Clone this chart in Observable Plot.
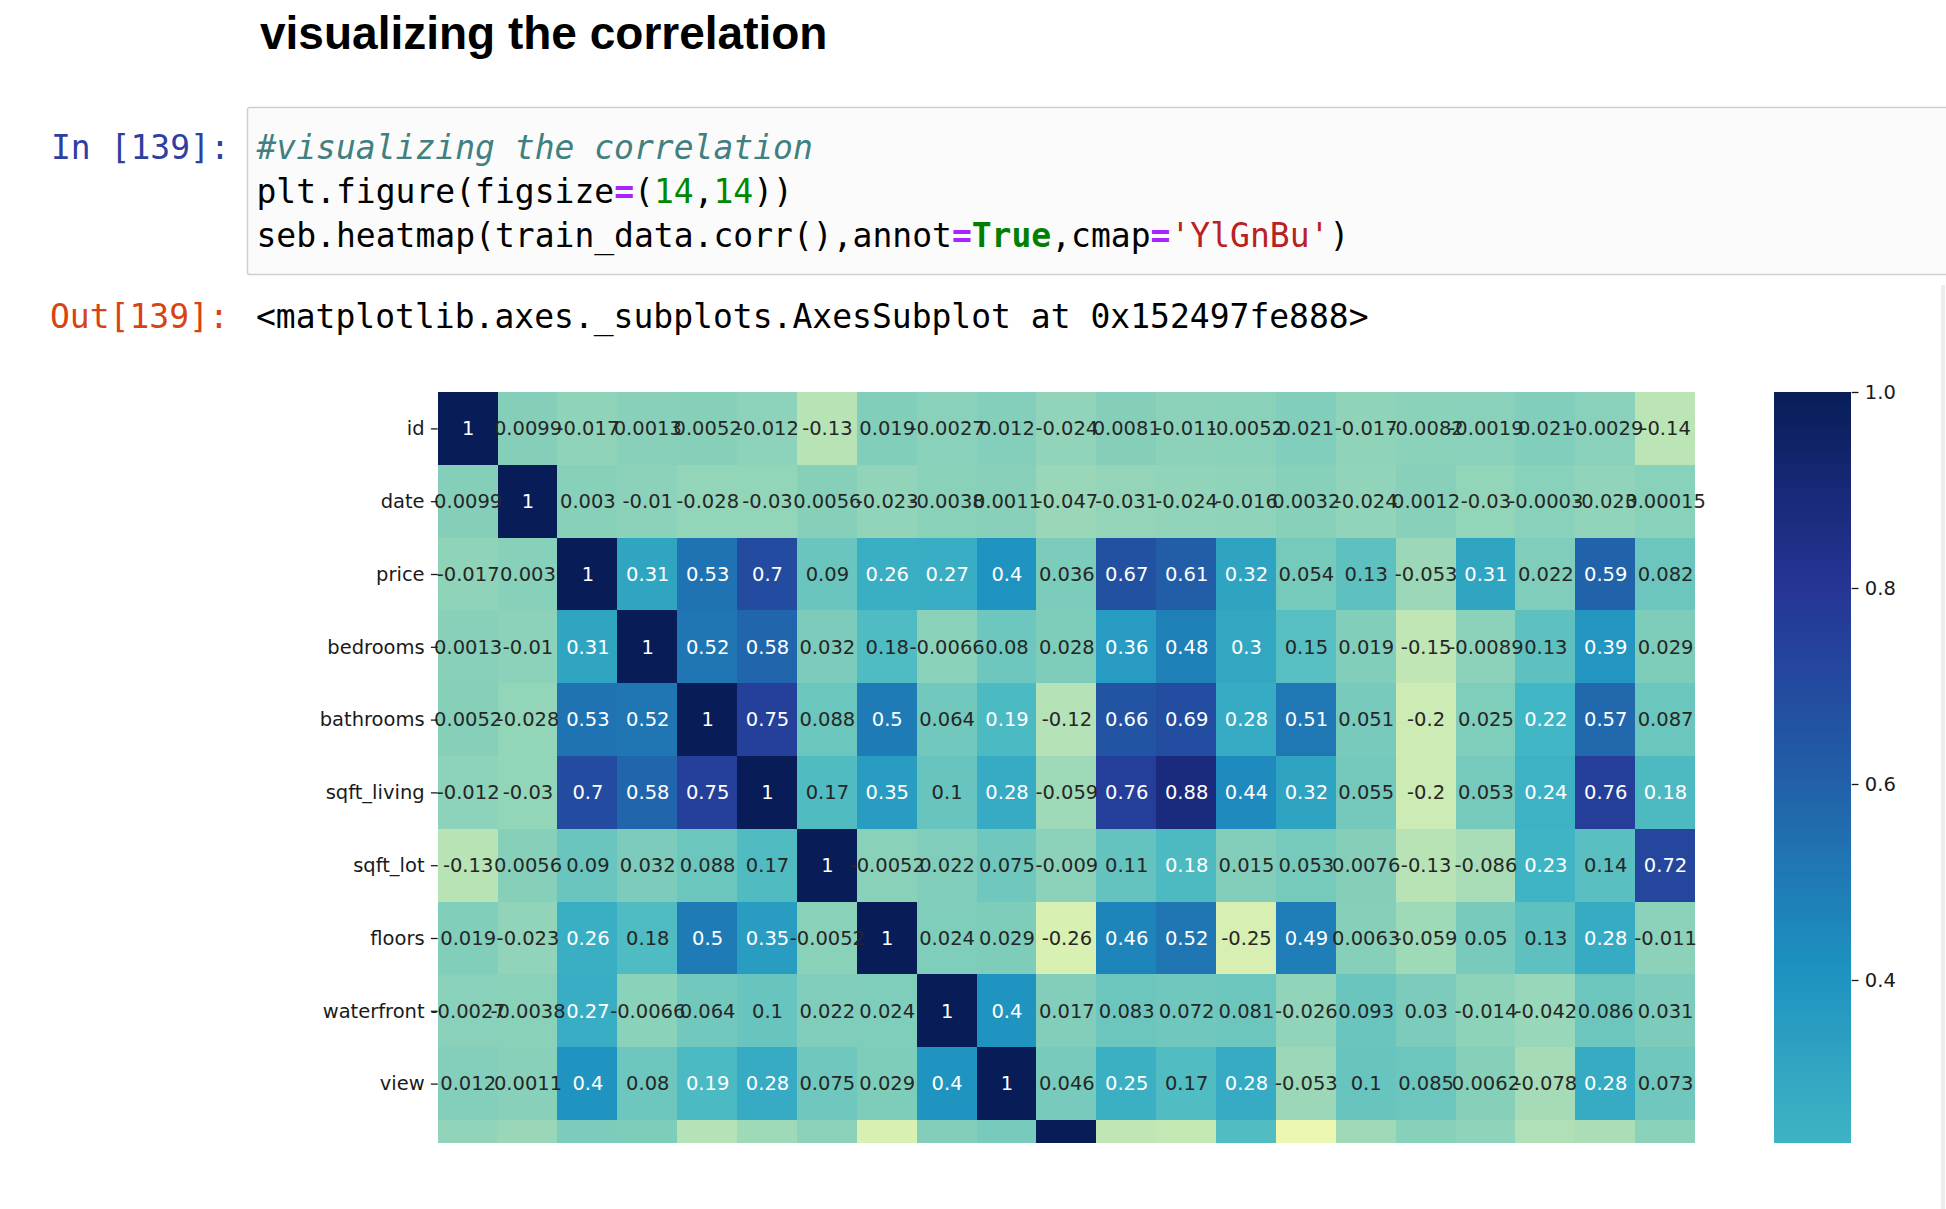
<!DOCTYPE html>
<html>
<head>
<meta charset="utf-8">
<script src="https://cdn.jsdelivr.net/npm/d3@7"></script>
<script src="https://cdn.jsdelivr.net/npm/@observablehq/plot@0.6"></script>
<style>
  html, body { margin: 0; padding: 0; background: #fff; }
  body { width: 1946px; height: 1209px; overflow: hidden; position: relative; font-family: "DejaVu Sans", sans-serif; }
  #chrome { position: absolute; left: 0; top: 0; }
  .clip { position: absolute; overflow: hidden; }
  .mono { font-family: "DejaVu Sans Mono", monospace; font-size: 33px; white-space: pre; }
</style>
</head>
<body>
<svg id="chrome" width="1946" height="1209" xmlns="http://www.w3.org/2000/svg">
  <text x="260" y="49" font-family="Liberation Sans, Arial, sans-serif" font-weight="bold" font-size="46" fill="#000">visualizing the correlation</text>
  <rect x="247.5" y="107.5" width="1760" height="167" rx="2" ry="2" fill="#fbfbfb" stroke="#cfcfcf" stroke-width="1.5"></rect>
  <text class="mono" x="51" y="159" fill="#303F9F">In [139]:</text>
  <text class="mono" x="256.5" y="159" fill="#408080" font-style="italic">#visualizing the correlation</text>
  <text class="mono" x="256.5" y="203" fill="#000">plt.figure(figsize<tspan fill="#AA22FF" font-weight="bold">=</tspan>(<tspan fill="#008800">14</tspan>,<tspan fill="#008800">14</tspan>))</text>
  <text class="mono" x="256.5" y="247" fill="#000">seb.heatmap(train_data.corr(),annot<tspan fill="#AA22FF" font-weight="bold">=</tspan><tspan fill="#008000" font-weight="bold">True</tspan>,cmap<tspan fill="#AA22FF" font-weight="bold">=</tspan><tspan fill="#BA2121">'YlGnBu'</tspan>)</text>
  <text class="mono" x="50" y="328" fill="#D84315">Out[139]:</text>
  <text class="mono" x="256" y="328" fill="#000">&lt;matplotlib.axes._subplots.AxesSubplot at 0x152497fe888&gt;</text>
  <rect x="1941" y="285" width="4" height="924" fill="#ececec"></rect>
</svg>
<div id="heat" class="clip" style="left:0px; top:371.7px; width:1720px; height:771px;"></div>
<div id="cbar" class="clip" style="left:1774px; top:371.7px; width:160px; height:771px;"></div>
<script>
// ---- data ----
const columns = ["id","date","price","bedrooms","bathrooms","sqft_living","sqft_lot","floors","waterfront","view","condition","grade","sqft_above","sqft_basement","yr_built","yr_renovated","zipcode","lat","long","sqft_living15","sqft_lot15"];
const rowNames = ["id","date","price","bedrooms","bathrooms","sqft_living","sqft_lot","floors","waterfront","view","condition"];
// rows whose labels and annotations are visible in the (cropped) reference
const labelledRows = ["id","date","price","bedrooms","bathrooms","sqft_living","sqft_lot","floors","waterfront","view"];

const corrId         = [1, 0.0099, -0.017, 0.0013, 0.0052, -0.012, -0.13, 0.019, -0.0027, 0.012, -0.024, 0.0081, -0.011, -0.0052, 0.021, -0.017, -0.0082, -0.0019, 0.021, -0.0029, -0.14];
const corrDate       = [0.0099, 1, 0.003, -0.01, -0.028, -0.03, 0.0056, -0.023, -0.0038, 0.0011, -0.047, -0.031, -0.024, -0.016, 0.0032, -0.024, 0.0012, -0.03, -0.0003, -0.023, 0.00015];
const corrPrice      = [-0.017, 0.003, 1, 0.31, 0.53, 0.7, 0.09, 0.26, 0.27, 0.4, 0.036, 0.67, 0.61, 0.32, 0.054, 0.13, -0.053, 0.31, 0.022, 0.59, 0.082];
const corrBedrooms   = [0.0013, -0.01, 0.31, 1, 0.52, 0.58, 0.032, 0.1754, -0.0066, 0.08, 0.028, 0.36, 0.48, 0.3, 0.15, 0.019, -0.15, -0.0089, 0.13, 0.39, 0.029];
const corrBathrooms  = [0.0052, -0.028, 0.53, 0.52, 1, 0.75, 0.088, 0.5, 0.064, 0.1876, -0.12, 0.66, 0.69, 0.28, 0.51, 0.051, -0.2, 0.025, 0.22, 0.57, 0.087];
const corrSqftLiving = [-0.012, -0.03, 0.7, 0.58, 0.75, 1, 0.1728, 0.35, 0.1, 0.28, -0.059, 0.76, 0.88, 0.44, 0.32, 0.055, -0.2, 0.053, 0.24, 0.76, 0.1833];
const corrSqftLot    = [-0.13, 0.0056, 0.09, 0.032, 0.088, 0.1728, 1, -0.0052, 0.022, 0.075, -0.009, 0.11, 0.1835, 0.015, 0.053, 0.0076, -0.13, -0.086, 0.23, 0.14, 0.72];
const corrFloors     = [0.019, -0.023, 0.26, 0.1754, 0.5, 0.35, -0.0052, 1, 0.024, 0.029, -0.26, 0.46, 0.52, -0.25, 0.49, 0.0063, -0.059, 0.05, 0.13, 0.28, -0.011];
const corrWaterfront = [-0.0027, -0.0038, 0.27, -0.0066, 0.064, 0.1, 0.022, 0.024, 1, 0.4, 0.017, 0.083, 0.072, 0.081, -0.026, 0.093, 0.03, -0.014, -0.042, 0.086, 0.031];
const corrView       = [0.012, 0.0011, 0.4, 0.08, 0.1876, 0.28, 0.075, 0.029, 0.4, 1, 0.046, 0.25, 0.17, 0.28, -0.053, 0.1, 0.085, 0.0062, -0.078, 0.28, 0.073];
const corrCondition  = [-0.024, -0.047, 0.036, 0.028, -0.12, -0.059, -0.009, -0.26, 0.017, 0.046, 1, -0.15, -0.16, 0.17, -0.36, -0.061, 0.0029, -0.015, -0.11, -0.093, -0.0035];

const colorbarTicks = [0.4, 0.6, 0.8, 1.0];
const colorMin = -0.56, colorMax = 1;
const ylgnbu = ["#ffffd9","#edf8b1","#c7e9b4","#7fcdbb","#41b6c4","#1d91c0","#225ea8","#253494","#081d58"];

// ---- build table ----
const rowArrays = [corrId, corrDate, corrPrice, corrBedrooms, corrBathrooms, corrSqftLiving, corrSqftLot, corrFloors, corrWaterfront, corrView, corrCondition];
const table = rowNames.flatMap((r, i) => rowArrays[i].map((v, j) => ({row: r, col: columns[j], value: v})));
const annotated = table.filter(d => labelledRows.includes(d.row));

const colorOpts = {
  type: "linear",
  domain: ylgnbu.map((_, i) => colorMin + i * (colorMax - colorMin) / (ylgnbu.length - 1)),
  range: ylgnbu,
  interpolate: "rgb",
  clamp: true
};
const colorScale = Plot.scale({color: colorOpts});

const locale = d3.formatLocale({decimal: ".", thousands: ",", grouping: [3], currency: ["$", ""], minus: "-"});
const fmt = locale.format(".2~g");
const fmtTick = locale.format(".1f");

function relLum(c) {
  const {r, g, b} = d3.rgb(c);
  const f = v => { v /= 255; return v <= 0.03928 ? v / 12.92 : Math.pow((v + 0.055) / 1.055, 2.4); };
  return 0.2126 * f(r) + 0.7152 * f(g) + 0.0722 * f(b);
}
const textColor = v => relLum(colorScale.apply(v)) > 0.408 ? "#262626" : "#ffffff";

const rowH = 72.8;
const fullRows = columns.length;
const fontStyle = {fontFamily: "DejaVu Sans, sans-serif", fontSize: "19.5px", color: "#1a1a1a", background: "transparent"};

const heat = Plot.plot({
  width: 1720,
  height: 20 + rowNames.length * rowH,
  marginLeft: 437.7, marginRight: 25, marginTop: 20, marginBottom: 0,
  style: fontStyle,
  x: {domain: columns, padding: 0, round: false, axis: null},
  y: {domain: rowNames, padding: 0, round: false, label: null},
  color: colorOpts,
  marks: [
    Plot.cell(table, {x: "col", y: "row", fill: "value", inset: 0, shapeRendering: "crispEdges"}),
    Plot.text(annotated, {x: "col", y: "row", text: d => fmt(d.value), fill: d => textColor(d.value), fontSize: 19.5, fontFamily: "DejaVu Sans"}),
    Plot.axisY({ticks: labelledRows, tickSize: 6.8, tickPadding: 6.8, fontSize: 19.5, label: null, stroke: "#1a1a1a", strokeWidth: 1.3})
  ]
});
document.getElementById("heat").appendChild(heat);

const cbStep = (colorMax - colorMin) / 256;
const cbValues = d3.range(256).map(i => colorMin + i * cbStep);
const cbar = Plot.plot({
  width: 160,
  height: 20 + fullRows * rowH + 20,
  marginLeft: 0, marginRight: 83.3, marginTop: 20, marginBottom: 20,
  style: fontStyle,
  y: {domain: [colorMin, colorMax], label: null},
  color: colorOpts,
  marks: [
    Plot.rect(cbValues, {y1: d => d, y2: d => d + cbStep, fill: d => d + cbStep / 2, shapeRendering: "crispEdges"}),
    Plot.axisY({anchor: "right", ticks: colorbarTicks, tickFormat: fmtTick, tickSize: 6.8, tickPadding: 6.8, fontSize: 19.5, label: null, stroke: "#1a1a1a", strokeWidth: 1.3})
  ]
});
document.getElementById("cbar").appendChild(cbar);
</script>
</body>
</html>
